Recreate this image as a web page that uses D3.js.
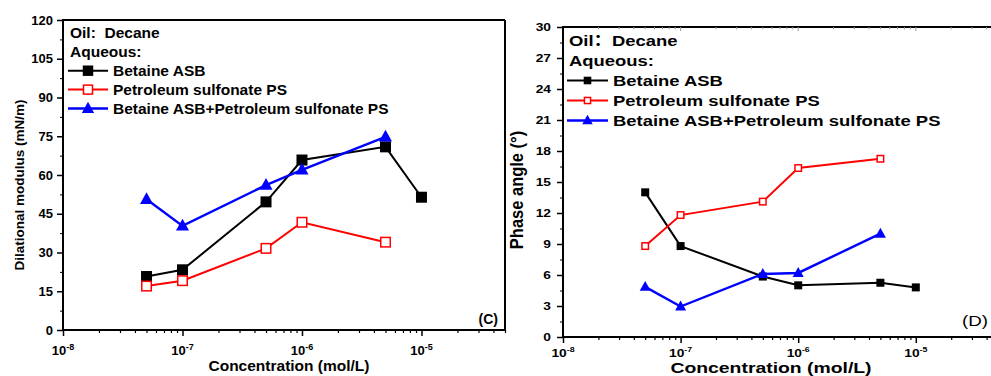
<!DOCTYPE html>
<html>
<head>
<meta charset="utf-8">
<script src="https://cdn.jsdelivr.net/npm/d3@7"></script>
<style>
  body { margin: 0; background: #fff; }
  svg { display: block; font-family: "Liberation Sans", Arial, sans-serif; }
</style>
</head>
<body>
<script>
var width = 991,
    height = 376;

// concentrations (mol/L)
var concentrations = [5e-8, 1e-7, 5e-7, 1e-6, 5e-6, 1e-5];

// panel C: dilational modulus (mN/m)
var modulusASB = [20.7, 23.3, 49.6, 65.8, 70.9, 51.4];
var modulusPS = [17.0, 19.1, 31.6, 41.7, 34.0];
var modulusMix = [50.6, 40.3, 56.1, 62.0, 74.8];

// panel D: phase angle (deg)
var phaseASB = [14.0, 8.8, 5.85, 5.0, 5.25, 4.8];
var phasePS = [8.8, 11.8, 13.1, 16.35, 17.25];
var phaseMix = [4.85, 2.95, 6.1, 6.2, 10.0];

var modulusTicks = [0, 15, 30, 45, 60, 75, 90, 105, 120];
var phaseTicks = [0, 3, 6, 9, 12, 15, 18, 21, 24, 27, 30];
var decadeExps = [-8, -7, -6, -5];

var seriesNames = ["Betaine ASB", "Petroleum sulfonate PS", "Betaine ASB+Petroleum sulfonate PS"];

var svg = d3.select("body").append("svg").attr("width", width).attr("height", height);

function pairs(ys) {
    return ys.map(function (v, i) { return [concentrations[i], v]; });
}

// text placed at (x,y) and stretched horizontally by sx
function sText(parent, x, y, sx, rot) {
    return parent.append("text")
        .attr("transform", "translate(" + x + "," + y + ") scale(" + sx + ",1)" + (rot ? " rotate(" + rot + ")" : ""));
}

function drawMarker(g, type, x, y, s) {
    if (type == "square") {
        g.append("rect").attr("x", x - s / 2).attr("y", y - s / 2).attr("width", s).attr("height", s)
            .attr("fill", "#000");
    } else if (type == "open") {
        g.append("rect").attr("x", x - s / 2 + 0.75).attr("y", y - s / 2 + 0.75)
            .attr("width", s - 1.5).attr("height", s - 1.5)
            .attr("fill", "#fff").attr("stroke", "#f00").attr("stroke-width", 1.5);
    } else {
        var h = s * 0.9;
        g.append("path")
            .attr("d", "M" + x + "," + (y - h * 0.6) + "L" + (x + s / 2) + "," + (y + h * 0.4) + "L" + (x - s / 2) + "," + (y + h * 0.4) + "Z")
            .attr("fill", "#00f");
    }
}

function drawPanel(p) {
    var x = d3.scaleLog().domain([1e-8, 5e-5]).range([p.left, p.right]);
    var y = d3.scaleLinear().domain(p.yDomain).range([p.bottom, p.top]);
    var g = svg.append("g");

    // frame
    g.append("line").attr("x1", p.left).attr("x2", p.right).attr("y1", p.top).attr("y2", p.top)
        .attr("stroke", "#000").attr("stroke-width", 2);
    if (p.rightEdge) {
        g.append("line").attr("x1", p.right).attr("x2", p.right).attr("y1", p.top).attr("y2", p.bottom)
            .attr("stroke", "#000").attr("stroke-width", 2);
    }

    // top inner ticks (panel D)
    if (p.topTicks) {
        var tt = [];
        decadeExps.concat([-4]).forEach(function (e) {
            for (var k = 1; k < 10; k++) {
                var v = k * Math.pow(10, e);
                if (v <= 5e-5) tt.push({ v: v, major: k == 1 });
            }
        });
        g.selectAll(".ttick").data(tt).enter().append("line")
            .attr("x1", function (d) { return x(d.v); }).attr("x2", function (d) { return x(d.v); })
            .attr("y1", p.top).attr("y2", function (d) { return p.top + (d.major ? 4 : 2.5); })
            .attr("stroke", "#999").attr("stroke-width", 1);
    }

    // y axis
    var minor = [];
    for (var i = 0; i < p.yTicks.length - 1; i++) minor.push((p.yTicks[i] + p.yTicks[i + 1]) / 2);
    var yAxis = g.append("g").attr("transform", "translate(" + p.left + ",0)")
        .call(d3.axisLeft(y).tickValues(p.yTicks).tickSize(6).tickFormat(d3.format("d")));
    g.append("g").attr("transform", "translate(" + p.left + ",0)")
        .call(d3.axisLeft(y).tickValues(minor).tickSize(3).tickFormat(""))
        .call(function (a) { a.select(".domain").remove(); });
    yAxis.select(".domain").attr("stroke-width", 2).attr("d", "M0," + (p.bottom + 1) + "V" + (p.top - 1));
    yAxis.selectAll(".tick line").attr("stroke-width", 1.5);
    yAxis.selectAll(".tick text")
        .attr("x", -p.yLabelGap / p.sx)
        .attr("transform", "scale(" + p.sx + ",1)")
        .style("font-size", p.tickFont + "px").style("font-weight", "bold").attr("fill", "#000");

    // x axis (log)
    var xMinor = [];
    decadeExps.concat([-4]).forEach(function (e) {
        for (var k = 2; k < 10; k++) {
            var v = k * Math.pow(10, e);
            if (v <= 5e-5) xMinor.push(v);
        }
    });
    var xAxis = g.append("g").attr("transform", "translate(0," + p.bottom + ")")
        .call(d3.axisBottom(x).tickValues(decadeExps.map(function (e) { return Math.pow(10, e); })).tickSize(6).tickFormat(""));
    g.append("g").attr("transform", "translate(0," + p.bottom + ")")
        .call(d3.axisBottom(x).tickValues(xMinor).tickSize(3).tickFormat(""))
        .call(function (a) { a.select(".domain").remove(); a.selectAll("line").attr("stroke-width", 1.2); });
    xAxis.select(".domain").attr("stroke-width", 2).attr("d", "M" + (p.left - 1) + ",0H" + p.right);
    xAxis.selectAll(".tick line").attr("stroke-width", 1.5);

    decadeExps.forEach(function (e) {
        var t = sText(g, x(Math.pow(10, e)), p.bottom + p.xLabelDy, p.sx)
            .attr("text-anchor", "middle").style("font-size", p.tickFont + "px").style("font-weight", "bold");
        t.append("tspan").text("10");
        t.append("tspan").attr("dy", -5).style("font-size", (p.tickFont - 4) + "px").text(String(e));
    });

    // axis titles
    sText(g, p.yTitleX, p.yTitleY, p.titleSx, -90)
        .attr("text-anchor", "middle").style("font-size", p.titleFont + "px").style("font-weight", "bold")
        .text(p.yTitle);
    sText(g, p.xTitleX, p.xTitleY, p.sx)
        .attr("text-anchor", "middle").style("font-size", p.xTitleFont + "px").style("font-weight", "bold")
        .text("Concentration (mol/L)");

    // series
    var line = d3.line().x(function (d) { return x(d[0]); }).y(function (d) { return y(d[1]); });
    var styles = [
        { color: "#000", type: "square", size: p.sq, w: p.lw },
        { color: "#f00", type: "open", size: p.sq, w: p.lw },
        { color: "#00f", type: "tri", size: p.tri, w: p.lw + 0.4 }
    ];
    p.series.forEach(function (ys, si) {
        var st = styles[si];
        var pts = pairs(ys);
        g.append("path").datum(pts).attr("d", line).attr("fill", "none")
            .attr("stroke", st.color).attr("stroke-width", st.w);
        pts.forEach(function (d) { drawMarker(g, st.type, x(d[0]), y(d[1]), st.size); });
    });

    // legend
    var lg = g.append("g").style("font-weight", "bold").style("font-size", p.legendFont + "px");
    var oil = sText(lg, p.legX + 2, p.legY0, p.legSx).attr("dy", "0.35em").attr("xml:space", "preserve");
    oil.append("tspan").text("Oil");
    oil.append("tspan").style("font-family", p.colonFont).text(p.oilColon);
    oil.append("tspan").text("Decane");
    sText(lg, p.legX + 2, p.legY0 + p.legStep, p.legSx).attr("dy", "0.35em").text("Aqueous:");
    seriesNames.forEach(function (name, i) {
        var st = styles[i];
        var ly = p.legY0 + p.legStep * (i + 2);
        lg.append("line").attr("x1", p.legX).attr("x2", p.legX + p.legLine).attr("y1", ly).attr("y2", ly)
            .attr("stroke", st.color).attr("stroke-width", st.w);
        drawMarker(lg, st.type, p.legX + p.legLine / 2, ly, st.size * 0.95);
        sText(lg, p.legX + p.legLine + 5, ly, p.legSx).attr("dy", "0.35em").text(name);
    });

    sText(g, p.tagX, p.tagY, p.sx).attr("text-anchor", "end")
        .style("font-size", p.tagFont + "px").style("font-weight", p.tagWeight).text(p.tag);
}

drawPanel({
    left: 63, right: 505, top: 20, bottom: 330,
    yDomain: [0, 120], yTicks: modulusTicks,
    series: [modulusASB, modulusPS, modulusMix],
    rightEdge: true, topTicks: false, sx: 1,
    tickFont: 13, yLabelGap: 10, titleFont: 13.5, titleSx: 1, xTitleFont: 15.5, legendFont: 15.5, legSx: 1,
    xLabelDy: 25, yTitleX: 24, yTitleY: 185, yTitle: "Dilational modulus (mN/m)",
    xTitleX: 289, xTitleY: 371,
    sq: 11, tri: 13, lw: 2,
    oilColon: ":  ", colonFont: "inherit",
    legX: 68, legY0: 32.9, legStep: 18.9, legLine: 40,
    tag: "(C)", tagX: 498, tagY: 324, tagFont: 14, tagWeight: "bold"
});

drawPanel({
    left: 563, right: 998, top: 27, bottom: 337,
    yDomain: [0, 30], yTicks: phaseTicks,
    series: [phaseASB, phasePS, phaseMix],
    rightEdge: false, topTicks: true, sx: 1.25,
    tickFont: 11, yLabelGap: 12, titleFont: 16.5, titleSx: 1.08, xTitleFont: 15.5, legendFont: 15.5, legSx: 1.19,
    xLabelDy: 20, yTitleX: 523, yTitleY: 190, yTitle: "Phase angle (°)",
    xTitleX: 771, xTitleY: 373,
    sq: 8, tri: 11, lw: 2,
    oilColon: "：", colonFont: "Noto Sans CJK SC",
    legX: 567, legY0: 40.5, legStep: 20, legLine: 41,
    tag: "(D)", tagX: 988, tagY: 326, tagFont: 15, tagWeight: "normal"
});
</script>
</body>
</html>
